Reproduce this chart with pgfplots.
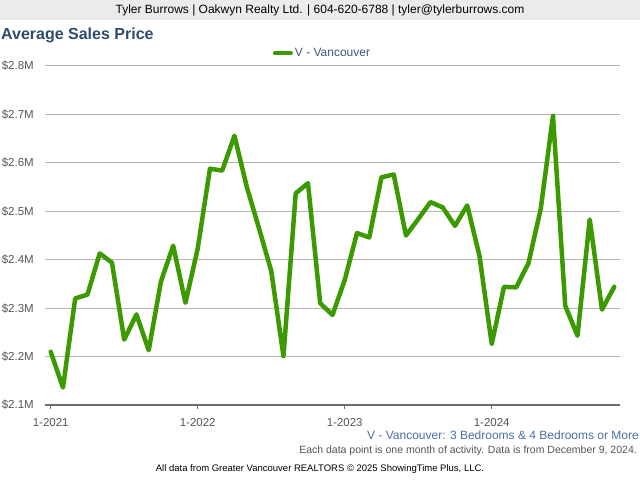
\documentclass[border=0pt]{standalone}
\usepackage{pgfplots}
\pgfplotsset{compat=1.18}
\usepackage{fontspec}
\setmainfont{Liberation Sans}
\definecolor{lineg}{HTML}{3A9A00}
\definecolor{hdrgray}{HTML}{EBEBEB}
\definecolor{titleblue}{HTML}{2E4A6E}
\definecolor{legblue}{HTML}{3C5A82}
\definecolor{subblue}{HTML}{4A6FA5}
\definecolor{labgray}{HTML}{555555}
\definecolor{gridgray}{HTML}{B4B4B4}
\definecolor{axgray}{HTML}{6E6E6E}
\pgfplotstableread{
m v
0 2.210
1 2.136
2 2.320
3 2.328
4 2.413
5 2.394
6 2.235
7 2.287
8 2.213
9 2.355
10 2.429
11 2.311
12 2.423
13 2.588
14 2.584
15 2.656
16 2.551
17 2.465
18 2.377
19 2.201
20 2.537
21 2.558
22 2.310
23 2.286
24 2.358
25 2.455
26 2.446
27 2.570
28 2.576
29 2.450
30 2.484
31 2.519
32 2.508
33 2.470
34 2.512
35 2.408
36 2.226
37 2.344
38 2.343
39 2.393
40 2.505
41 2.697
42 2.305
43 2.243
44 2.483
45 2.297
46 2.344
}\data
\begin{document}
\begin{tikzpicture}[x=1pt,y=1pt]
\useasboundingbox (0,0) rectangle (640,480);
\fill[white] (0,0) rectangle (640,480);
\fill[hdrgray] (0,460) rectangle (640,480);
\node[font=\fontsize{12}{14}\selectfont, inner sep=0] at (320,470) {Tyler Burrows | Oakwyn Realty Ltd. | 604-620-6788 | tyler@tylerburrows.com};
\node[anchor=west, font=\bfseries\fontsize{16}{18}\selectfont, text=titleblue, inner sep=0] at (1,445) {Average Sales Price};
\begin{axis}[
  at={(45pt,75pt)}, anchor=south west, scale only axis,
  width=575pt, height=339pt,
  xmin=-0.465, xmax=46.47, ymin=2.1, ymax=2.8,
  axis x line=bottom, axis y line=left,
  x axis line style={-, draw=axgray, line width=2.5pt},
  y axis line style={draw=none},
  ytick={2.1,2.2,2.3,2.4,2.5,2.6,2.7,2.8},
  yticklabels={\$2.1M,\$2.2M,\$2.3M,\$2.4M,\$2.5M,\$2.6M,\$2.7M,\$2.8M},
  ytick style={draw=none},
  xtick={0,12,24,36},
  xticklabels={1-2021,1-2022,1-2023,1-2024},
  xtick align=outside, major tick length=4pt,
  xtick style={draw=axgray, line width=1.5pt},
  ymajorgrids, grid style={draw=gridgray, line width=1pt},
  ticklabel style={font=\fontsize{11.5}{13}\selectfont, text=labgray},
  yticklabel style={inner sep=0pt, anchor=east, xshift=-9pt},
  xticklabel style={inner sep=0pt, anchor=north, yshift=-9.5pt},
  legend style={at={(axis description cs:0.4826,1)}, anchor=center, yshift=12.7pt, draw=none, fill=none, font=\fontsize{12}{14}\selectfont, text=legblue, inner sep=0pt},
  legend image code/.code={\draw[line width=4pt, lineg] (0pt,0pt) -- (16pt,0pt);},
  clip=false,
]
\addplot[lineg, line width=4.5pt, line join=round, line cap=round] table[x=m,y=v] {\data};
\addlegendentry{V - Vancouver}
\end{axis}
\node[anchor=east, font=\fontsize{12}{14}\selectfont, text=subblue, inner sep=0] at (639,45) {V - Vancouver: 3 Bedrooms \& 4 Bedrooms or More};
\node[anchor=east, font=\fontsize{10.5}{12}\selectfont, text=labgray, inner sep=0] at (637,29) {Each data point is one month of activity. Data is from December 9, 2024.};
\node[font=\fontsize{9.5}{11}\selectfont, inner sep=0] at (320,11) {All data from Greater Vancouver REALTORS © 2025 ShowingTime Plus, LLC.};
\end{tikzpicture}
\end{document}
